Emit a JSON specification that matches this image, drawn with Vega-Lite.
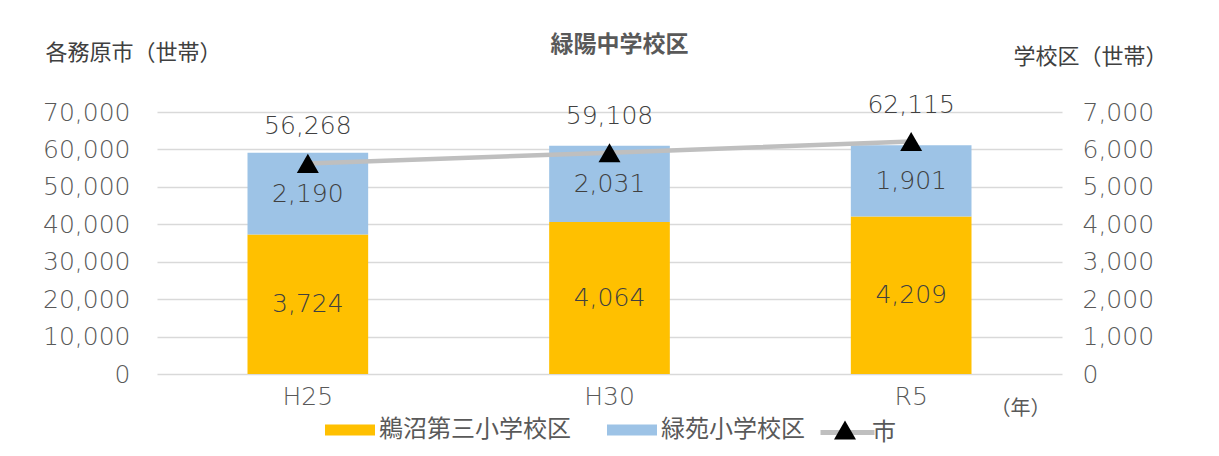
{
  "$schema": "https://vega.github.io/schema/vega-lite/v6.json",
  "width": 905,
  "height": 262,
  "autosize": {"type": "none"},
  "padding": {"left": 157, "top": 112, "right": 157, "bottom": 82},
  "background": "white",
  "config": {
    "view": {"stroke": null},
    "font": "DejaVu Sans",
    "axis": {"domain": false, "ticks": false, "tickSize": 0, "labelFont": "DejaVu Sans", "labelFontSize": 25, "labelFontWeight": 200, "labelColor": "#595959", "labelOverlap": false, "titleFont": "Noto Sans CJK JP", "titleFontWeight": "normal", "titleColor": "#404040"}
  },
  "title": {"text": "緑陽中学校区", "font": "Noto Sans CJK JP", "fontSize": 23, "fontWeight": "bold", "color": "#595959", "anchor": "middle", "frame": "group", "offset": -16, "dx": 10},
  "datasets": {
    "schools": [
      {"year": "H25", "school": "鵜沼第三小学校区", "households": 3724},
      {"year": "H25", "school": "緑苑小学校区", "households": 2190},
      {"year": "H30", "school": "鵜沼第三小学校区", "households": 4064},
      {"year": "H30", "school": "緑苑小学校区", "households": 2031},
      {"year": "R5", "school": "鵜沼第三小学校区", "households": 4209},
      {"year": "R5", "school": "緑苑小学校区", "households": 1901}
    ],
    "city": [
      {"year": "H25", "city": 56268},
      {"year": "H30", "city": 59108},
      {"year": "R5", "city": 62115}
    ]
  },
  "encoding": {
    "x": {
      "field": "year", "type": "nominal", "sort": ["H25", "H30", "R5"],
      "scale": {"paddingInner": 0.6, "paddingOuter": 0.3},
      "axis": {"labelAngle": 0, "labelPadding": 10, "title": "（年）", "titleFontSize": 20, "titleColor": "#595959", "titleX": 863, "titleY": 34, "titleAlign": "center", "titleBaseline": "middle", "titleAngle": 0}
    }
  },
  "layer": [
    {
      "data": {"name": "schools"},
      "transform": [
        {"stack": "households", "groupby": ["year"], "sort": [{"field": "school", "order": "descending"}], "as": ["v0", "v1"]}
      ],
      "layer": [
        {
          "mark": {"type": "bar"},
          "encoding": {
            "y": {
              "field": "v1", "type": "quantitative",
              "scale": {"domain": [0, 7000]},
              "axis": {"orient": "right", "values": [0, 1000, 2000, 3000, 4000, 5000, 6000, 7000], "tickCount": 8, "format": ",.0f", "grid": false, "labelPadding": 20, "labelAlign": "left", "title": "学校区（世帯）", "titleFontSize": 22, "titleAngle": 0, "titleAlign": "left", "titleBaseline": "middle", "titleX": -49, "titleY": -56}
            },
            "y2": {"field": "v0"},
            "color": {
              "field": "school", "type": "nominal",
              "scale": {"domain": ["鵜沼第三小学校区", "緑苑小学校区"], "range": ["#ffc000", "#9dc3e6"]},
              "legend": {"orient": "none", "legendX": 168, "legendY": 293, "direction": "horizontal", "title": null, "symbolType": "M-1,-0.22 h2 v0.44 h-2 Z", "symbolSize": 2500, "symbolStrokeWidth": 0, "symbolOpacity": 1, "labelFont": "Noto Sans CJK JP", "labelFontSize": 24, "labelColor": "#595959", "labelOffset": 4, "labelLimit": 400, "columnPadding": 36, "padding": 0}
            }
          }
        },
        {
          "transform": [
            {"fold": ["v0", "v1"], "as": ["edgeName", "edge"]},
            {"aggregate": [{"op": "mean", "field": "edge", "as": "mid"}], "groupby": ["year", "school", "households"]}
          ],
          "mark": {"type": "text", "fontSize": 25, "fontWeight": 200, "color": "#404040", "baseline": "middle"},
          "encoding": {
            "y": {
              "field": "mid", "type": "quantitative",
              "axis": {"orient": "right", "values": [0, 1000, 2000, 3000, 4000, 5000, 6000, 7000], "tickCount": 8, "format": ",.0f", "grid": false, "labelPadding": 20, "labelAlign": "left", "title": "学校区（世帯）", "titleFontSize": 22, "titleAngle": 0, "titleAlign": "left", "titleBaseline": "middle", "titleX": -49, "titleY": -56}
            },
            "text": {"field": "households", "type": "quantitative", "format": ","}
          }
        }
      ]
    },
    {
      "data": {"name": "city"},
      "encoding": {
        "y": {
          "field": "city", "type": "quantitative",
          "scale": {"domain": [0, 70000]},
          "axis": {"orient": "left", "values": [0, 10000, 20000, 30000, 40000, 50000, 60000, 70000], "format": ",.0f", "grid": true, "gridColor": "#d9d9d9", "gridWidth": 1.3, "labelPadding": 27, "title": "各務原市（世帯）", "titleFontSize": 22, "titleAngle": 0, "titleAlign": "left", "titleBaseline": "middle", "titleX": -112, "titleY": -60}
        }
      },
      "layer": [
        {
          "mark": {"type": "line", "strokeWidth": 4.5},
          "encoding": {
            "stroke": {
              "datum": "市", "type": "nominal",
              "scale": {"range": ["#bfbfbf"]},
              "legend": {"orient": "none", "legendX": 661, "legendY": 291, "title": null, "symbolType": "stroke", "symbolSize": 2916, "symbolStrokeWidth": 5, "labelFont": "Noto Sans CJK JP", "labelFontSize": 24, "labelColor": "#595959", "labelOffset": -5, "padding": 0}
            }
          }
        },
        {
          "mark": {"type": "point", "filled": true, "size": 484, "opacity": 1, "color": "black"},
          "encoding": {
            "shape": {
              "datum": "marker", "type": "nominal",
              "scale": {"range": ["triangle-up"]},
              "legend": {"orient": "none", "legendX": 677, "legendY": 307, "title": null, "symbolSize": 484, "symbolFillColor": "black", "symbolStrokeWidth": 0, "symbolOpacity": 1, "labelExpr": "''", "padding": 0}
            }
          }
        },
        {
          "mark": {"type": "text", "fontSize": 25, "fontWeight": 200, "color": "#404040", "baseline": "middle", "dy": -37},
          "encoding": {
            "text": {"field": "city", "type": "quantitative", "format": ","}
          }
        }
      ]
    }
  ],
  "resolve": {"scale": {"y": "independent"}}
}
